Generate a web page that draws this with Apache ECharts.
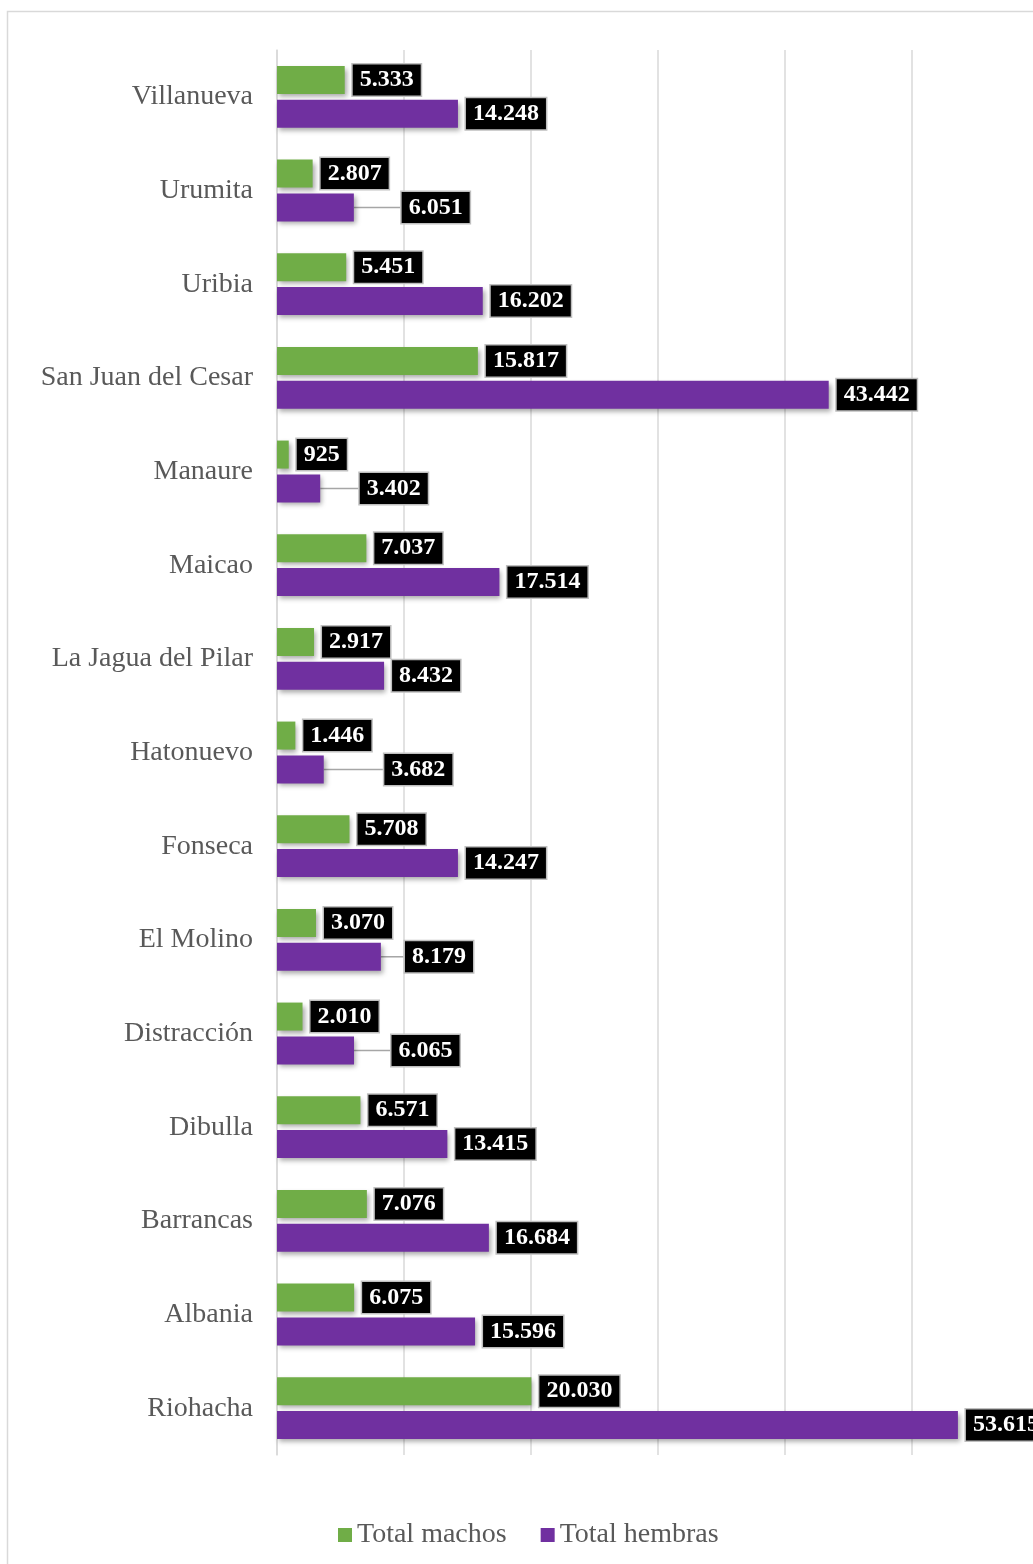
<!DOCTYPE html>
<html><head><meta charset="utf-8">
<script src="https://cdn.jsdelivr.net/npm/echarts@6/dist/echarts.min.js"></script>
<style>html,body{margin:0;padding:0;background:#fff}#c{width:1033px;height:1564px}</style>
</head><body><div id="c"></div><script>
const categories = ['Riohacha','Albania','Barrancas','Dibulla','Distracción','El Molino','Fonseca','Hatonuevo','La Jagua del Pilar','Maicao','Manaure','San Juan del Cesar','Uribia','Urumita','Villanueva'];
const machos = [20030, 6075, 7076, 6571, 2010, 3070, 5708, 1446, 2917, 7037, 925, 15817, 5451, 2807, 5333];
const hembras = [53615, 15596, 16684, 13415, 6065, 8179, 14247, 3682, 8432, 17514, 3402, 43442, 16202, 6051, 14248];
const seriesNames = ['Total machos', 'Total hembras'];
const axisMin = 0, axisMax = 60000, axisStep = 10000;

function fmt(v){ return String(v).replace(/\B(?=(\d{3})+(?!\d))/g, '.'); }
const serif = '"Liberation Serif", "Times New Roman", serif';
const LBL_SIZE = 24, PADX = 7, BW = 1.5, DIST = 8, GAP = 13;
const baseLabel = {
  show: true, position: 'right', distance: DIST,
  formatter: p => fmt(p.value),
  color: '#fff', fontFamily: serif, fontWeight: 'bold', fontSize: LBL_SIZE,
  backgroundColor: '#000', borderColor: '#bfbfbf', borderWidth: BW,
  padding: [4, PADX, 3, PADX]
};
const shadow = { shadowColor: 'rgba(0,0,0,0.35)', shadowBlur: 5, shadowOffsetX: 2, shadowOffsetY: 3 };

const chart = echarts.init(document.getElementById('c'), null, { renderer: 'canvas' });
function buildOption(hItems){
  return {
    animation: false,
    graphic: [{ type: 'rect', shape: { x: 7.5, y: 11.5, width: 1200, height: 1700 }, style: { fill: 'none', stroke: '#d9d9d9', lineWidth: 1.5 }, silent: true }],
    grid: { left: 277, top: 50, width: 762, height: 1405, outerBoundsMode: 'none', containLabel: false },
    legend: {
      data: seriesNames, left: 333, top: 1516, icon: 'rect', itemWidth: 14, itemHeight: 14, itemGap: 34,
      textStyle: { fontFamily: serif, fontSize: 28, color: '#595959' }
    },
    xAxis: {
      type: 'value', min: axisMin, max: axisMax, interval: axisStep,
      axisLabel: { show: false }, axisTick: { show: false }, axisLine: { show: false },
      splitLine: { lineStyle: { color: '#d9d9d9', width: 1.5 } }
    },
    yAxis: {
      type: 'category', data: categories,
      axisTick: { show: false },
      axisLine: { show: true, lineStyle: { color: '#d9d9d9', width: 1.5 } },
      axisLabel: { fontFamily: serif, fontSize: 28, color: '#595959', margin: 24 }
    },
    series: [
      { name: seriesNames[0], type: 'bar', barWidth: 28, barGap: '21%', data: machos.map(v => ({ value: v })),
        itemStyle: Object.assign({ color: '#70ad47' }, shadow), label: baseLabel },
      { name: seriesNames[1], type: 'bar', barWidth: 28, barGap: '21%', data: hItems,
        itemStyle: Object.assign({ color: '#7030a0' }, shadow), label: baseLabel,
        labelLine: { show: false, lineStyle: { color: '#a6a6a6', width: 1.5 } } }
    ]
  };
}
chart.setOption(buildOption(hembras.map(v => ({ value: v }))));

// second pass: push purple labels right when they would collide with green labels
const ctx = document.createElement('canvas').getContext('2d');
ctx.font = 'bold ' + LBL_SIZE + 'px ' + serif;
const boxW = v => ctx.measureText(fmt(v)).width + 2 * PADX;
const px = v => chart.convertToPixel({ xAxisIndex: 0 }, v);
const hItems = hembras.map((h, i) => {
  const greenRight = px(machos[i]) + DIST + boxW(machos[i]);
  const defLeft = px(h) + DIST;
  if (defLeft < greenRight) {
    const off = greenRight + GAP - defLeft;
    return { value: h, label: { offset: [off, 0] }, labelLine: { show: true, lineStyle: { color: '#a6a6a6', width: 1.5 } } };
  }
  return { value: h };
});
chart.setOption(buildOption(hItems), true);
</script></body></html>
